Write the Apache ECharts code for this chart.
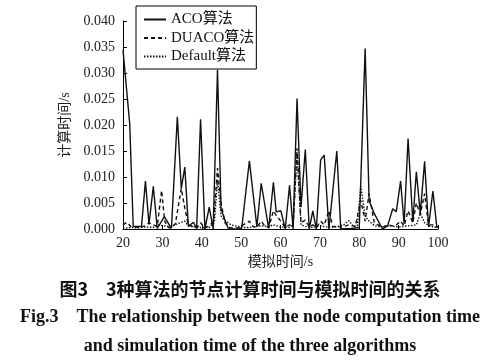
<!DOCTYPE html>
<html>
<head>
<meta charset="utf-8">
<script src="https://cdn.jsdelivr.net/npm/echarts@6/dist/echarts.min.js"></script>
<style>html,body{margin:0;padding:0;background:#fff;}#c{width:500px;height:364px;}</style>
</head>
<body>
<div id="c"></div>
<script>
// x: simulation time (s), y: computation time (s)
var seriesNames = ['ACO算法', 'DUACO算法', 'Default算法'];
var yTicks = [0, 0.005, 0.01, 0.015, 0.02, 0.025, 0.03, 0.035, 0.04];
var xTicks = [20, 30, 40, 50, 60, 70, 80, 90, 100];

var acoData = [
  [20,0.0344],[21.7,0.0203],[22.6,0.0005],[24.7,0.0005],[25.7,0.0092],[26.6,0.0009],
  [27.7,0.0082],[28.7,0.0001],[30.5,0.0024],[32.3,0.0001],[33.8,0.0216],[34.8,0.0078],
  [35.7,0.0119],[36.6,0.0005],[37.9,0.0013],[38.7,0.0001],[39.7,0.0211],[40.8,0.0],
  [41.9,0.0042],[42.9,0.0],[44.0,0.0306],[44.9,0.0039],[45.9,0.0017],[46.8,0.0],
  [49.8,0.0],[50.2,0.0005],[52.1,0.0131],[54.0,0.0004],[55.1,0.0088],[57.0,0.0001],
  [58.2,0.0090],[58.9,0.0033],[60.1,0.0035],[61.2,0.0],[62.3,0.0084],[63.2,0.0],
  [64.2,0.0251],[65.2,0.0042],[66.3,0.0153],[67.3,0.0],[68.2,0.0035],[69.1,0.0],
  [70.2,0.0133],[71.1,0.0142],[72.3,0.0],[74.3,0.0150],[75.3,0.0],[78.0,0.0001],
  [80.0,0.0003],[81.5,0.0347],[82.5,0.0055],[83.8,0.0030],[85.9,0.0],[87.2,0.0006],
  [88.5,0.0039],[89.4,0.0033],[90.5,0.0092],[91.4,0.0010],[92.4,0.0174],[93.6,0.0013],
  [94.5,0.0110],[95.5,0.0030],[96.6,0.0130],[97.6,0.0004],[98.7,0.0073],[99.7,0.0004],[100,0.0003]
];

var duacoData = [
  [20,0.0008],[21,0.0013],[22,0.0005],[24,0.0003],[25.7,0.0006],[26.6,0.0012],[27.7,0.0008],
  [28.7,0.0005],[29.8,0.0074],[30.6,0.0015],[31.5,0.0003],[32.3,0.0002],[33.3,0.0010],
  [34.8,0.0078],[35.7,0.0040],[36.6,0.0008],[37.9,0.0004],[38.7,0.0002],[39.7,0.0012],
  [40.8,0.0002],[41.9,0.0006],[43.0,0.0015],[44.0,0.0117],[44.9,0.0050],[45.9,0.0012],
  [46.8,0.0003],[48,0.0002],[49.8,0.0002],[50.5,0.0008],[52.1,0.0015],[53,0.0005],[54,0.0003],
  [55.1,0.0015],[56,0.0006],[57,0.0003],[58.2,0.0035],[59,0.0025],[60.1,0.0015],[61.2,0.0003],
  [62.3,0.0008],[63.2,0.0004],[64.2,0.0155],[65.2,0.0012],[66.3,0.0017],[67.3,0.0004],
  [68.2,0.0008],[69.1,0.0003],[70.2,0.0015],[71.1,0.0008],[72.3,0.0035],[73.3,0.0004],
  [74.3,0.0006],[75.3,0.0003],[77.4,0.0008],[79,0.0005],[80.4,0.0055],[81.5,0.0015],
  [82.5,0.0068],[83.8,0.0012],[85.9,0.0003],[87.2,0.0008],[88.5,0.0006],[89.4,0.0008],
  [90.5,0.0015],[91.4,0.0006],[92.4,0.0035],[93.6,0.0012],[94.5,0.0050],[95.5,0.0028],
  [96.6,0.0068],[97.6,0.0008],[98.7,0.0008],[99.7,0.0004],[100,0.0003]
];

var defaultData = [
  [20,0.0003],[21,0.0002],[22,0.0003],[24,0.0002],[25.7,0.0004],[27.7,0.0003],[29,0.0008],
  [30.5,0.0006],[32.3,0.0005],[33.8,0.0010],[35.7,0.0015],[36.6,0.0006],[38,0.0004],
  [39.7,0.0003],[41.9,0.0003],[43.2,0.0012],[44.0,0.0095],[44.9,0.0025],[46,0.0015],
  [47.5,0.0008],[49,0.0005],[50.5,0.0003],[52,0.0003],[54,0.0005],[55.1,0.0006],[57,0.0005],
  [58.2,0.0008],[60,0.0004],[62.3,0.0003],[63.2,0.0008],[64.2,0.0148],[65.2,0.0008],
  [66.3,0.0005],[68,0.0003],[70.2,0.0006],[72.3,0.0003],[74.3,0.0004],[76,0.0008],
  [77.4,0.0016],[78.5,0.0005],[79.5,0.0006],[80.4,0.0082],[81.5,0.0025],[82.5,0.0015],
  [84,0.0006],[86,0.0004],[88,0.0006],[90,0.0004],[92.4,0.0006],[94.5,0.0008],[95.5,0.0030],
  [96.6,0.0012],[98,0.0005],[100,0.0003]
];

var captionCn = '图3\u30003种算法的节点计算时间与模拟时间的关系';
var captionEn1 = 'Fig.3    The relationship between the node computation time';
var captionEn2 = 'and simulation time of the three algorithms';

var serif = '"Liberation Serif", "Noto Sans CJK SC", serif';
var chart = echarts.init(document.getElementById('c'), null, {renderer: 'canvas'});
chart.setOption({
  animation: false,
  backgroundColor: '#fff',
  grid: {left: 123, right: 62, top: 21, bottom: 135},
  xAxis: {
    type: 'value', min: xTicks[0], max: xTicks[xTicks.length - 1], interval: 10,
    name: '模拟时间/s', nameLocation: 'middle', nameGap: 23,
    nameTextStyle: {fontFamily: serif, fontSize: 14, color: '#222'},
    axisLine: {lineStyle: {color: '#000', width: 1}},
    axisTick: {inside: true, length: 4, lineStyle: {color: '#000'}},
    axisLabel: {margin: 7, fontFamily: serif, fontSize: 14, color: '#222'},
    splitLine: {show: false}
  },
  yAxis: {
    type: 'value', min: yTicks[0], max: yTicks[yTicks.length - 1], interval: 0.005,
    name: '计算时间/s', nameLocation: 'middle', nameGap: 46,
    nameTextStyle: {fontFamily: serif, fontSize: 14, color: '#222'},
    axisLine: {show: true, lineStyle: {color: '#000', width: 1}},
    axisTick: {show: true, inside: true, length: 4, lineStyle: {color: '#000'}},
    axisLabel: {margin: 8, fontFamily: serif, fontSize: 14, color: '#222',
      formatter: function (v) { return v.toFixed(3); }},
    splitLine: {show: false}
  },
  legend: {
    orient: 'vertical', left: 136, top: 6,
    padding: [6, 2, 5, 7],
    itemWidth: 22, itemHeight: 13, itemGap: 3.5,
    borderColor: '#000', borderWidth: 1, backgroundColor: '#fff',
    itemStyle: {opacity: 0},
    textStyle: {fontFamily: serif, fontSize: 15, color: '#111'},
    data: seriesNames
  },
  series: [
    {name: seriesNames[0], type: 'line', data: acoData, symbol: 'none', z: 3,
      lineStyle: {color: '#111', width: 1.4, type: 'solid'}, itemStyle: {color: '#111'}},
    {name: seriesNames[1], type: 'line', data: duacoData, symbol: 'none', z: 2,
      lineStyle: {color: '#111', width: 1.4, type: [4, 3]}, itemStyle: {color: '#111'}},
    {name: seriesNames[2], type: 'line', data: defaultData, symbol: 'none', z: 1,
      lineStyle: {color: '#111', width: 1.4, type: [1.5, 1.5]}, itemStyle: {color: '#111'}}
  ],
  graphic: [
    {type: 'text', left: 'center', top: 280,
      style: {text: captionCn, font: 'bold 18px "Noto Sans CJK SC"', fill: '#111'}},
    {type: 'text', left: 'center', top: 308,
      style: {text: captionEn1, font: 'bold 18px "Liberation Serif"', fill: '#111'}},
    {type: 'text', left: 'center', top: 337,
      style: {text: captionEn2, font: 'bold 18px "Liberation Serif"', fill: '#111'}}
  ]
});
</script>
</body>
</html>
